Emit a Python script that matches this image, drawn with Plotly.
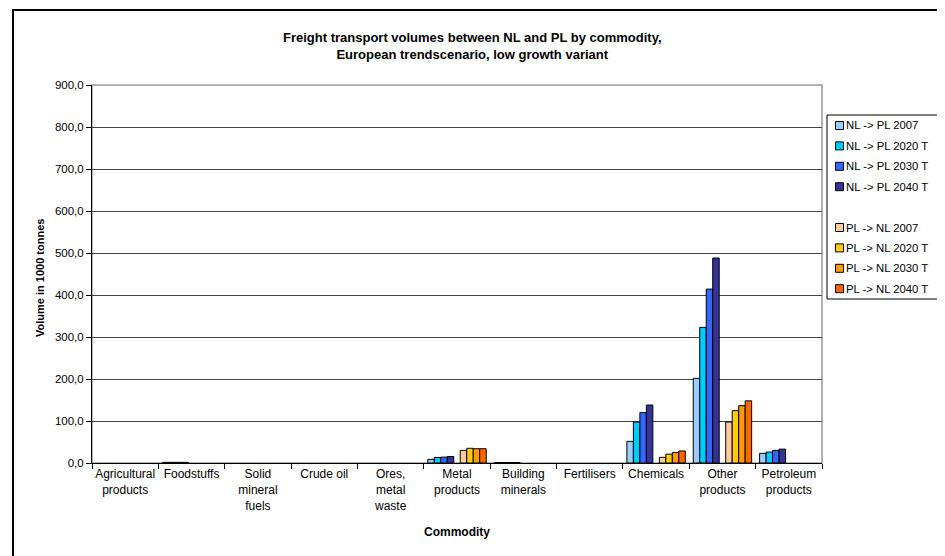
import plotly.graph_objects as go

# ---------------- data ----------------
categories = ["Agricultural<br>products", "Foodstuffs", "Solid<br>mineral<br>fuels", "Crude oil",
              "Ores,<br>metal<br>waste", "Metal<br>products", "Building<br>minerals", "Fertilisers",
              "Chemicals", "Other<br>products", "Petroleum<br>products"]

series_names = ["NL -> PL 2007", "NL -> PL 2020 T", "NL -> PL 2030 T", "NL -> PL 2040 T", " ",
                "PL -> NL 2007", "PL -> NL 2020 T", "PL -> NL 2030 T", "PL -> NL 2040 T"]

nl_pl_2007 = [None, 1.5, None, None, None, 8.7, 1.2, None, 51.6, 201.5, 23.0]
nl_pl_2020 = [None, 1.5, None, None, None, 13.0, 1.2, None, 97.6, 323.0, 26.0]
nl_pl_2030 = [None, 1.5, None, None, None, 14.0, 1.2, None, 120.0, 414.0, 30.0]
nl_pl_2040 = [None, 1.5, None, None, None, 15.5, 1.2, None, 138.0, 488.0, 33.0]
blank_series = [0, 0, 0, 0, 0, 0, 0, 0, 0, 0, 0]
pl_nl_2007 = [None, None, None, None, None, 30.0, None, None, 13.5, 97.6, None]
pl_nl_2020 = [None, None, None, None, None, 35.0, None, None, 21.0, 124.6, None]
pl_nl_2030 = [None, None, None, None, None, 34.0, None, None, 25.0, 136.5, None]
pl_nl_2040 = [None, None, None, None, None, 34.0, None, None, 28.6, 148.0, None]

series_values = [nl_pl_2007, nl_pl_2020, nl_pl_2030, nl_pl_2040, blank_series,
                 pl_nl_2007, pl_nl_2020, pl_nl_2030, pl_nl_2040]
series_colors = ["#99CCFF", "#00CCFF", "#3366FF", "#333399", "rgba(0,0,0,0)",
                 "#FFCC99", "#FFCC00", "#FF9900", "#FF6600"]

y_ticks = [0, 100, 200, 300, 400, 500, 600, 700, 800, 900]

# ---------------- layout geometry (reference pixels) ----------------
OFF = 8  # page body margin
W, H = 945, 556
FIG_W, FIG_H = W - OFF, H - OFF
PL, PR, PT, PB = 92, 822, 85, 463
FONT = "Liberation Sans, Arial, sans-serif"


def px_x(px):
    return (px - PL) / (PR - PL)


def px_y(py):
    return (PB - py) / (PB - PT)


fig = go.Figure()
for name, vals, col in zip(series_names, series_values, series_colors):
    is_blank = name.strip() == ""
    fig.add_trace(go.Bar(
        x=categories, y=vals, name=name,
        marker=dict(color=col, line=dict(color="black", width=0 if is_blank else 1)),
        showlegend=False, hoverinfo="skip" if is_blank else None,
    ))

shapes = []
annotations = []

# outer chart border
shapes.append(dict(type="rect", xref="paper", yref="paper",
                   x0=px_x(13), x1=px_x(960), y0=px_y(590), y1=px_y(10),
                   line=dict(color="black", width=2), layer="below"))
# plot area border (grey top/right)
shapes.append(dict(type="rect", xref="paper", yref="paper", x0=0, x1=1, y0=0, y1=1,
                   line=dict(color="#999999", width=1.5), layer="below"))

# manual legend
LX0, LX1, LY0, LY1 = 827, 942, 115, 299
shapes.append(dict(type="rect", xref="paper", yref="paper",
                   x0=px_x(LX0), x1=px_x(LX1), y0=px_y(LY1), y1=px_y(LY0),
                   line=dict(color="black", width=1), fillcolor="white"))
step = 20.4
for i, (name, col) in enumerate(zip(series_names, series_colors)):
    if name.strip() == "":
        continue
    cy = 125.5 + i * step
    shapes.append(dict(type="rect", xref="paper", yref="paper",
                       x0=px_x(835.5), x1=px_x(843.5), y0=px_y(cy + 4), y1=px_y(cy - 4),
                       line=dict(color="black", width=1), fillcolor=col))
    annotations.append(dict(xref="paper", yref="paper", x=px_x(844), y=px_y(cy),
                            xanchor="left", yanchor="middle", showarrow=False,
                            text=name, font=dict(family=FONT, size=11.3, color="black")))

# title
annotations.append(dict(xref="paper", yref="paper", x=px_x(472.5), y=px_y(46),
                        xanchor="center", yanchor="middle", showarrow=False,
                        text="<b>Freight transport volumes between NL and PL by commodity,<br>European trendscenario, low growth variant</b>",
                        font=dict(family=FONT, size=13, color="black")))
# axis titles
annotations.append(dict(xref="paper", yref="paper", x=px_x(457), y=px_y(532),
                        xanchor="center", yanchor="middle", showarrow=False,
                        text="<b>Commodity</b>", font=dict(family=FONT, size=12, color="black")))
annotations.append(dict(xref="paper", yref="paper", x=px_x(40), y=px_y(278),
                        xanchor="center", yanchor="middle", showarrow=False, textangle=-90,
                        text="<b>Volume in 1000 tonnes</b>", font=dict(family=FONT, size=11, color="black")))

fig.update_layout(
    width=FIG_W, height=FIG_H,
    margin=dict(l=PL - OFF, r=FIG_W - (PR - OFF), t=PT - OFF, b=FIG_H - (PB - OFF), pad=0),
    paper_bgcolor="white", plot_bgcolor="white",
    barmode="group", bargap=0.12, bargroupgap=0,
    separators=", ",
    font=dict(family=FONT, size=12, color="black"),
    shapes=shapes, annotations=annotations,
    showlegend=False,
)
fig.update_xaxes(
    type="category", tickson="boundaries", ticks="outside", ticklen=5, tickcolor="black",
    showline=True, linecolor="black", linewidth=1, showgrid=False,
    tickfont=dict(family=FONT, size=12, color="black"), tickangle=0,
)
fig.update_yaxes(
    range=[0, 900], tickvals=y_ticks, tickformat=".1f", ticks="outside", ticklen=5,
    tickcolor="black", showline=True, linecolor="black", linewidth=1,
    showgrid=True, gridcolor="#444444", gridwidth=1, zeroline=False,
    tickfont=dict(family=FONT, size=11.5, color="black"),
)

fig.write_html("out.html")
